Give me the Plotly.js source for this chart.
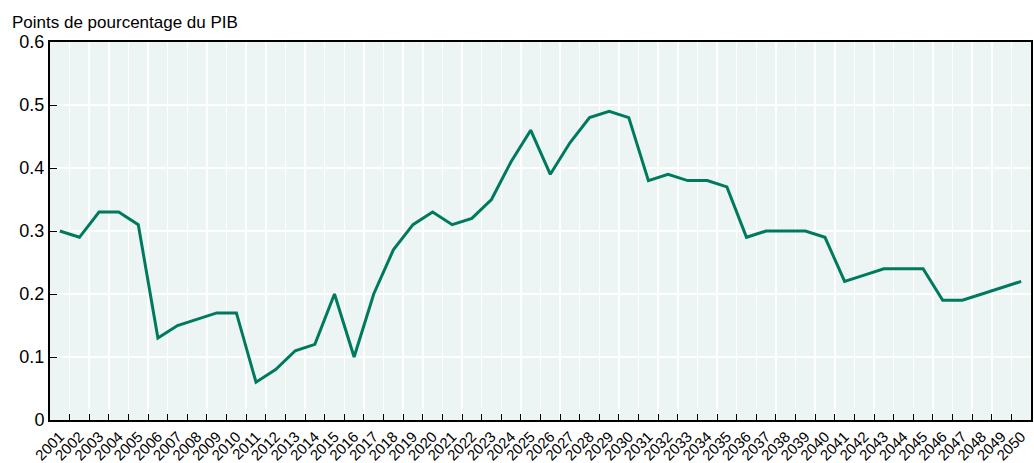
<!DOCTYPE html>
<html>
<head>
<meta charset="utf-8">
<script src="https://cdn.plot.ly/plotly-3.0.1.min.js"></script>
<style>
  html, body { margin: 0; padding: 0; background: #ffffff; }
  #chart { width: 1034px; height: 463px; }
</style>
</head>
<body>
<div id="chart"></div>
<script>
const years = [
  "2001","2002","2003","2004","2005","2006","2007","2008","2009","2010",
  "2011","2012","2013","2014","2015","2016","2017","2018","2019","2020",
  "2021","2022","2023","2024","2025","2026","2027","2028","2029","2030",
  "2031","2032","2033","2034","2035","2036","2037","2038","2039","2040",
  "2041","2042","2043","2044","2045","2046","2047","2048","2049","2050"
];
const values = [
  0.30, 0.29, 0.33, 0.33, 0.31, 0.13, 0.15, 0.16, 0.17, 0.17,
  0.06, 0.08, 0.11, 0.12, 0.20, 0.10, 0.20, 0.27, 0.31, 0.33,
  0.31, 0.32, 0.35, 0.41, 0.46, 0.39, 0.44, 0.48, 0.49, 0.48,
  0.38, 0.39, 0.38, 0.38, 0.37, 0.29, 0.30, 0.30, 0.30, 0.29,
  0.22, 0.23, 0.24, 0.24, 0.24, 0.19, 0.19, 0.20, 0.21, 0.22
];
const yTickVals = [0, 0.1, 0.2, 0.3, 0.4, 0.5, 0.6];
const yTickText = ["0", "0.1", "0.2", "0.3", "0.4", "0.5", "0.6"];
const yTitle = "Points de pourcentage du PIB";

const FONT = "'Liberation Sans', Arial, sans-serif";

const trace = {
  x: years,
  y: values,
  type: "scatter",
  mode: "lines",
  line: { color: "#007a5e", width: 3 },
  hoverinfo: "x+y"
};

const layout = {
  width: 1034,
  height: 463,
  margin: { l: 50, r: 3, t: 42, b: 43, pad: 0 },
  paper_bgcolor: "#ffffff",
  plot_bgcolor: "#ecf5f4",
  showlegend: false,
  font: { family: FONT, size: 17, color: "#000000" },
  xaxis: {
    type: "category",
    range: [-0.5, years.length - 0.5],
    tickson: "boundaries",
    ticks: "inside",
    ticklen: 6,
    tickwidth: 1,
    tickcolor: "#000000",
    tickangle: -45,
    tickfont: { family: FONT, size: 15, color: "#000000" },
    showgrid: true,
    gridcolor: "#ffffff",
    gridwidth: 1.5,
    showline: true,
    linecolor: "#000000",
    linewidth: 2,
    mirror: true,
    zeroline: false,
    fixedrange: true
  },
  yaxis: {
    range: [0, 0.6],
    tickvals: yTickVals,
    ticktext: yTickText,
    ticks: "inside",
    ticklen: 7,
    tickwidth: 1,
    tickcolor: "#000000",
    tickfont: { family: FONT, size: 18, color: "#000000" },
    showgrid: true,
    gridcolor: "#ffffff",
    gridwidth: 2,
    showline: true,
    linecolor: "#000000",
    linewidth: 2,
    mirror: true,
    zeroline: false,
    fixedrange: true
  },
  annotations: [{
    text: yTitle,
    xref: "paper",
    yref: "paper",
    x: 0,
    y: 1,
    xanchor: "left",
    yanchor: "bottom",
    xshift: -40,
    yshift: 8,
    showarrow: false,
    font: { family: FONT, size: 17, color: "#000000" }
  }]
};

Plotly.newPlot("chart", [trace], layout, { displayModeBar: false, staticPlot: true });
</script>
</body>
</html>
